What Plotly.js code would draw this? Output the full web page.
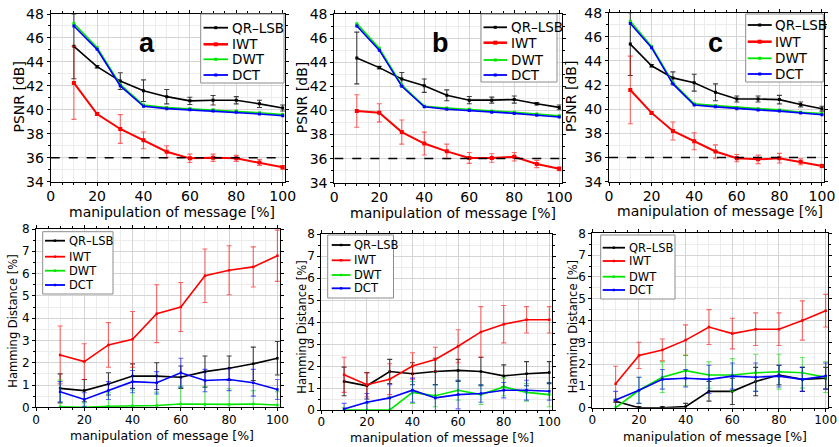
<!DOCTYPE html>
<html>
<head>
<meta charset="utf-8">
<script src="https://cdn.plot.ly/plotly-3.0.1.min.js"></script>
<style>html,body{margin:0;padding:0;background:#fff;}#chart{width:839px;height:447px;}</style>
</head>
<body>
<div id="chart"></div>
<script>
// ---------- data ----------
const manipulation = [10, 20, 30, 40, 50, 60, 70, 80, 90, 100];
const seriesNames = ["QR-LSB", "IWT", "DWT", "DCT"];
const legendLabels = ["QR–LSB", "IWT", "DWT", "DCT"];
const panelLetters = ["a", "b", "c"];
const psnrThreshold = 36;
const xTitle = "manipulation of message [%]";
const psnrTitle = "PSNR [dB]";
const hamTitle = "Hamming Distance [%]";

// PSNR [dB] panels a, b, c
const psnrA_QR  = [45.3, 43.6, 42.4, 41.6, 41.1, 40.75, 40.8, 40.8, 40.5, 40.15];
const psnrA_QRe = [2.7, 0.1, 0.7, 0.9, 0.6, 0.3, 0.4, 0.3, 0.3, 0.25];
const psnrA_IWT = [42.25, 39.65, 38.4, 37.45, 36.5, 35.95, 36.0, 35.95, 35.6, 35.2];
const psnrA_IWTe= [3.05, 0.1, 1.2, 0.7, 0.5, 0.35, 0.3, 0.25, 0.25, 0.15];
const psnrA_DWT = [47.2, 45.2, 42.1, 40.4, 40.2, 40.1, 40.0, 39.9, 39.75, 39.6];
const psnrA_DCT = [47.0, 45.05, 42.0, 40.3, 40.1, 40.0, 39.9, 39.8, 39.65, 39.5];

const psnrB_QR  = [44.35, 43.55, 42.6, 42.05, 41.25, 40.85, 40.85, 40.9, 40.55, 40.25];
const psnrB_QRe = [2.15, 0.1, 0.55, 0.55, 0.45, 0.3, 0.25, 0.3, 0.1, 0.2];
const psnrB_IWT = [39.95, 39.8, 38.2, 37.25, 36.6, 36.05, 36.05, 36.15, 35.55, 35.15];
const psnrB_IWTe= [1.35, 0.75, 1.0, 0.95, 0.6, 0.45, 0.35, 0.35, 0.3, 0.15];
const psnrB_DWT = [47.2, 45.15, 42.1, 40.35, 40.2, 40.1, 39.95, 39.85, 39.7, 39.55];
const psnrB_DCT = [47.0, 45.0, 42.0, 40.3, 40.1, 40.0, 39.85, 39.75, 39.6, 39.45];

const psnrC_QR  = [45.4, 43.6, 42.6, 42.2, 41.4, 40.85, 40.85, 40.8, 40.4, 40.05];
const psnrC_QRe = [2.6, 0.1, 0.5, 0.7, 0.7, 0.25, 0.25, 0.35, 0.2, 0.2];
const psnrC_IWT = [41.6, 39.7, 38.2, 37.35, 36.5, 35.95, 35.85, 35.95, 35.65, 35.3];
const psnrC_IWTe= [2.8, 0.1, 0.75, 0.7, 0.55, 0.3, 0.35, 0.4, 0.25, 0.15];
const psnrC_DWT = [47.3, 45.2, 42.2, 40.45, 40.3, 40.15, 40.05, 39.95, 39.75, 39.65];
const psnrC_DCT = [47.1, 45.1, 42.1, 40.35, 40.2, 40.05, 39.95, 39.85, 39.7, 39.55];

// Hamming distance [%] panels a, b, c
const hamA_QR  = [0.85, 0.75, 1.05, 1.4, 1.4, 1.35, 1.6, 1.75, 1.95, 2.2];
const hamA_QRe = [0.65, 0.5, 0.5, 0.55, 0.6, 0.5, 0.7, 0.55, 0.75, 0.75];
const hamA_IWT = [2.35, 2.05, 2.8, 3.05, 4.2, 4.5, 5.9, 6.15, 6.3, 6.8];
const hamA_IWTe= [1.3, 0.8, 1.0, 1.25, 1.3, 1.1, 1.2, 1.1, 0.9, 1.15];
const hamA_DWT = [0.02, 0.0, 0.05, 0.07, 0.08, 0.15, 0.13, 0.13, 0.15, 0.1];
const hamA_DWTe= [1.2, 0.2, 0.6, 0.7, 0.6, 0.8, 0.8, 0.7, 0.6, 0.6];
const hamA_DCT = [0.7, 0.35, 0.75, 1.15, 1.1, 1.55, 1.2, 1.25, 1.1, 0.8];
const hamA_DCTe= [0.45, 0.3, 0.4, 0.5, 0.5, 0.65, 0.5, 0.5, 0.6, 0.45];

const hamB_QR  = [1.3, 1.1, 1.75, 1.65, 1.75, 1.8, 1.75, 1.55, 1.65, 1.7];
const hamB_QRe = [0.65, 0.6, 0.55, 0.5, 0.6, 0.5, 0.65, 0.5, 0.55, 0.5];
const hamB_IWT = [1.6, 1.15, 1.4, 2.0, 2.3, 2.9, 3.55, 3.9, 4.1, 4.1];
const hamB_IWTe= [0.8, 0.55, 0.7, 0.6, 0.55, 0.75, 1.15, 0.85, 0.6, 0.6];
const hamB_DWT = [0.0, 0.0, 0.0, 0.8, 0.65, 0.9, 0.7, 1.05, 0.8, 0.7];
const hamB_DWTe= [0.1, 0.3, 0.6, 0.5, 0.5, 0.45, 0.45, 0.4, 0.4, 0.55];
const hamB_DCT = [0.05, 0.35, 0.55, 0.9, 0.55, 0.7, 0.75, 0.9, 0.9, 0.85];
const hamB_DCTe= [0.25, 0.4, 0.6, 0.55, 0.6, 0.65, 0.4, 0.35, 0.45, 0.4];

const hamC_QR  = [0.3, 0.0, 0.0, 0.05, 0.75, 0.75, 1.2, 1.5, 1.3, 1.35];
const hamC_QRe = [0.05, 0.05, 0.05, 0.15, 0.45, 0.6, 0.65, 0.45, 0.55, 0.5];
const hamC_IWT = [1.1, 2.4, 2.65, 3.1, 3.7, 3.4, 3.6, 3.6, 4.0, 4.45];
const hamC_IWTe= [0.8, 0.6, 0.5, 0.7, 0.8, 0.7, 0.75, 0.75, 0.9, 0.75];
const hamC_DWT = [0.0, 0.8, 1.4, 1.7, 1.5, 1.5, 1.6, 1.65, 1.6, 1.4];
const hamC_DWTe= [0.4, 0.6, 0.7, 0.7, 0.6, 0.75, 0.85, 0.8, 0.7, 0.7];
const hamC_DCT = [0.35, 0.8, 1.3, 1.35, 1.3, 1.45, 1.4, 1.45, 1.3, 1.45];
const hamC_DCTe= [0.4, 0.6, 0.45, 0.4, 0.65, 0.6, 0.65, 0.5, 0.55, 0.6];

// ---------- styling ----------
const W = 839, H = 447;
const colors = {"QR-LSB": "#000000", "IWT": "#ff0000", "DWT": "#00e600", "DCT": "#0000ff"};
const errColors = {"QR-LSB": "rgba(0,0,0,0.75)", "IWT": "rgba(255,0,0,0.6)", "DWT": "rgba(0,220,0,0.6)", "DCT": "rgba(0,0,255,0.6)"};
const FONT = "DejaVu Sans, Verdana, sans-serif";
const px2x = v => v / W;
const px2y = v => 1 - v / H;

// panel pixel geometry: [left, right, top, bottom]
const panelsPx = [
  [50.7, 285.0, 14.0, 181.7],
  [334.3, 561.5, 14.0, 182.7],
  [609.0, 824.1, 12.7, 181.7],
  [36.0, 279.8, 229.0, 407.3],
  [321.3, 551.6, 234.0, 410.0],
  [592.3, 828.0, 233.3, 407.7]
];
// axis title anchor pixels: [xTitleX, xTitleY, yTitleX, yTitleY]
const titlePx = [
  [171.7, 212.0, 19.0, 97.5],
  [452.8, 213.3, 302.7, 97.5],
  [720.0, 211.0, 571.0, 97.0],
  [161.7, 435.7, 12.7, 321.0],
  [442.2, 437.0, 301.7, 327.0],
  [714.5, 436.3, 573.3, 327.0]
];
// legend pixels: box [l, r, t, b], line [x0, x1], text x, entry ys
const legendPx = [
  {box: [200.7, 284.0, 14.0, 83.0], line: [203.5, 228.0], tx: 229.5, ys: [27.7, 44.3, 59.3, 75.0]},
  {box: [481.0, 557.0, 14.0, 82.0], line: [483.5, 507.0], tx: 508.5, ys: [27.3, 42.7, 60.0, 75.0]},
  {box: [745.7, 823.3, 14.0, 82.0], line: [747.7, 771.7], tx: 773.0, ys: [25.0, 41.7, 58.3, 74.0]},
  {box: [42.7, 113.0, 231.7, 294.0], line: [45.0, 65.0], tx: 66.5, ys: [240.7, 256.7, 270.7, 285.0]},
  {box: [327.7, 393.5, 235.0, 298.0], line: [331.7, 350.5], tx: 351.5, ys: [245.0, 260.3, 275.0, 288.3]},
  {box: [600.7, 675.0, 235.0, 299.0], line: [602.7, 625.0], tx: 626.5, ys: [247.7, 261.0, 276.7, 290.0]}
];
const letterPx = [[146.7, 43.0], [440.0, 43.0], [715.0, 43.0]];

const traces = [];
function addSeries(panel, name, y, err, isTop) {
  const idx = panel === 0 ? "" : String(panel + 1);
  const tr = {
    x: manipulation, y: y, name: name, type: "scatter", mode: "lines+markers",
    xaxis: "x" + idx, yaxis: "y" + idx, showlegend: false,
    line: {color: colors[name], width: isTop ? (name === "IWT" ? 2 : 1.6) : 1.6},
    marker: {color: colors[name], size: isTop ? (name === "IWT" ? 4 : 3) : 2.5, symbol: "square"}
  };
  if (err) {
    tr.error_y = {type: "data", array: err, visible: true, color: errColors[name], thickness: 1.1, width: 2.5};
  }
  traces.push(tr);
}

const psnrData = [
  [psnrA_QR, psnrA_QRe, psnrA_IWT, psnrA_IWTe, psnrA_DWT, psnrA_DCT],
  [psnrB_QR, psnrB_QRe, psnrB_IWT, psnrB_IWTe, psnrB_DWT, psnrB_DCT],
  [psnrC_QR, psnrC_QRe, psnrC_IWT, psnrC_IWTe, psnrC_DWT, psnrC_DCT]
];
psnrData.forEach((d, p) => {
  addSeries(p, "QR-LSB", d[0], d[1], true);
  addSeries(p, "IWT", d[2], d[3], true);
  addSeries(p, "DWT", d[4], null, true);
  addSeries(p, "DCT", d[5], null, true);
});
const hamData = [
  [hamA_QR, hamA_QRe, hamA_IWT, hamA_IWTe, hamA_DWT, hamA_DWTe, hamA_DCT, hamA_DCTe],
  [hamB_QR, hamB_QRe, hamB_IWT, hamB_IWTe, hamB_DWT, hamB_DWTe, hamB_DCT, hamB_DCTe],
  [hamC_QR, hamC_QRe, hamC_IWT, hamC_IWTe, hamC_DWT, hamC_DWTe, hamC_DCT, hamC_DCTe]
];
hamData.forEach((d, i) => {
  const p = i + 3;
  addSeries(p, "QR-LSB", d[0], d[1], false);
  addSeries(p, "IWT", d[2], d[3], false);
  addSeries(p, "DWT", d[4], d[5], false);
  addSeries(p, "DCT", d[6], d[7], false);
});

const layout = {
  width: W, height: H, margin: {l: 0, r: 0, t: 0, b: 0},
  paper_bgcolor: "#fff", plot_bgcolor: "#fff",
  font: {family: FONT, color: "#000"},
  showlegend: false,
  shapes: [], annotations: []
};

panelsPx.forEach((px, p) => {
  const idx = p === 0 ? "" : String(p + 1);
  const isTop = p < 3;
  const tickSize = isTop ? 14 : 12;
  const xTitleSize = isTop ? 14 : 12.5;
  const yTitleSize = isTop ? 14 : 11.5;
  layout["xaxis" + idx] = {
    domain: [px2x(px[0]), px2x(px[1])],
    anchor: "y" + idx,
    range: [0, 101], dtick: 20, tick0: 0,
    showline: true, linecolor: "#000", linewidth: 1, mirror: "ticks",
    ticks: "outside", ticklen: 3, tickcolor: "#000",
    ticklabelstandoff: -2,
    showgrid: true, gridcolor: "#d4d4d4", gridwidth: 1,
    minor: {dtick: 5, showgrid: true, gridcolor: "#ececec", ticks: "outside", ticklen: 2, tickcolor: "#000"},
    zeroline: false,
    tickfont: {size: tickSize, family: FONT, color: "#000"},
    automargin: false
  };
  layout["yaxis" + idx] = {
    domain: [px2y(px[3]), px2y(px[2])],
    anchor: "x" + idx,
    range: isTop ? [34, 48] : [0, 8], dtick: isTop ? 2 : 1,
    showline: true, linecolor: "#000", linewidth: 1, mirror: "ticks",
    ticks: "outside", ticklen: 3, tickcolor: "#000",
    showgrid: true, gridcolor: "#d4d4d4", gridwidth: 1,
    minor: {dtick: isTop ? 1 : 0.5, showgrid: true, gridcolor: "#ececec", ticks: "outside", ticklen: 2, tickcolor: "#000"},
    zeroline: false,
    tickfont: {size: tickSize, family: FONT, color: "#000"},
    automargin: false
  };
  // axis titles as text annotations
  const t = titlePx[p];
  layout.annotations.push({
    xref: "paper", yref: "paper", x: px2x(t[0]), y: px2y(t[1]),
    xanchor: "center", yanchor: "middle", showarrow: false,
    text: xTitle, font: {size: xTitleSize, family: FONT, color: "#000"}
  });
  layout.annotations.push({
    xref: "paper", yref: "paper", x: px2x(t[2]), y: px2y(t[3]),
    xanchor: "center", yanchor: "middle", showarrow: false, textangle: -90,
    text: isTop ? psnrTitle : hamTitle, font: {size: yTitleSize, family: FONT, color: "#000"}
  });
  // legend box
  const lg = legendPx[p];
  layout.shapes.push({
    type: "rect", xref: "paper", yref: "paper",
    x0: px2x(lg.box[0]), x1: px2x(lg.box[1]), y0: px2y(lg.box[3]), y1: px2y(lg.box[2]),
    line: {color: "#8c8c8c", width: 1}, fillcolor: "#ffffff", layer: "above"
  });
  seriesNames.forEach((nm, k) => {
    const yy = px2y(lg.ys[k]);
    const lw = isTop ? (nm === "IWT" ? 2.5 : 1.8) : 1.8;
    layout.shapes.push({
      type: "line", xref: "paper", yref: "paper",
      x0: px2x(lg.line[0]), x1: px2x(lg.line[1]), y0: yy, y1: yy,
      line: {color: colors[nm], width: lw}, layer: "above"
    });
    const cx = (lg.line[0] + lg.line[1]) / 2;
    const ms = isTop ? (nm === "IWT" ? 2 : 1.5) : 1.2;
    layout.shapes.push({
      type: "rect", xref: "paper", yref: "paper",
      x0: px2x(cx - ms), x1: px2x(cx + ms), y0: px2y(lg.ys[k] + ms), y1: px2y(lg.ys[k] - ms),
      line: {width: 0}, fillcolor: colors[nm], layer: "above"
    });
    layout.annotations.push({
      xref: "paper", yref: "paper", x: px2x(lg.tx), y: yy,
      xanchor: "left", yanchor: "middle", showarrow: false,
      text: legendLabels[k], font: {size: isTop ? 13.5 : 11.5, family: FONT, color: "#000"}
    });
  });
  if (isTop) {
    layout.shapes.push({
      type: "line", xref: "x" + idx, yref: "y" + idx,
      x0: 0, x1: 100, y0: psnrThreshold, y1: psnrThreshold,
      line: {color: "#000", width: 1.5, dash: "dash"}
    });
    layout.annotations.push({
      xref: "paper", yref: "paper",
      x: px2x(letterPx[p][0]), y: px2y(letterPx[p][1]),
      xanchor: "center", yanchor: "middle",
      text: "<b>" + panelLetters[p] + "</b>", showarrow: false,
      font: {size: 27, family: "Liberation Sans, Arial, sans-serif", color: "#000"}
    });
  }
});

Plotly.newPlot("chart", traces, layout, {displayModeBar: false, staticPlot: true});
</script>
</body>
</html>
